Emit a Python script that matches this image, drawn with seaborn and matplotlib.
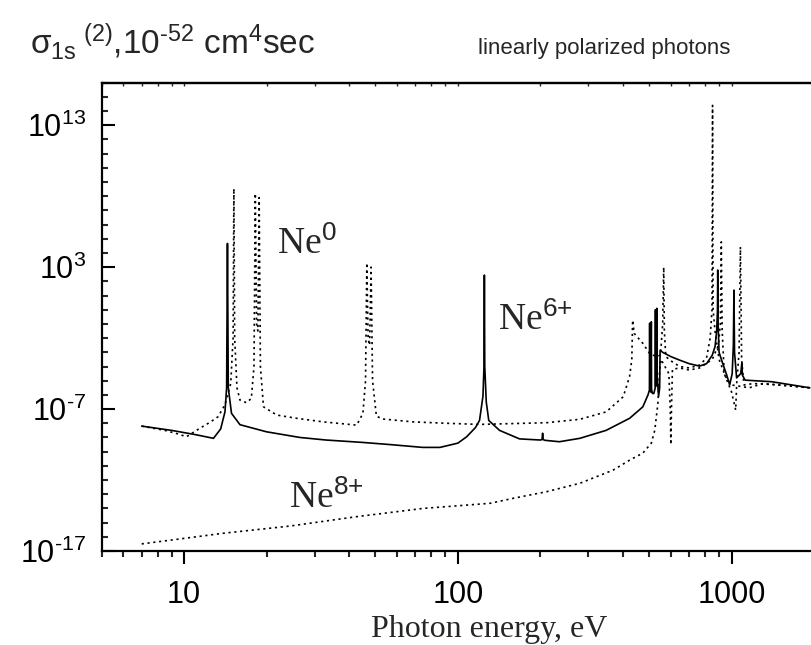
import numpy as np
import pandas as pd
import matplotlib
matplotlib.use("Agg")
import matplotlib.pyplot as plt
import seaborn as sns
from matplotlib import font_manager as fm
from matplotlib.ticker import LogLocator, FixedLocator, FuncFormatter, NullFormatter

# ---------------- data (photon energy in eV, log10 of cross-section) ----------------
ne6_E = [7.0, 9.0, 11.0, 12.8, 13.6, 14.1, 14.3, 14.4, 14.5, 14.9, 16.0, 20.0, 26.5, 33.0,
         45.0, 56.5, 74.5, 86.0, 100.0, 107.7, 116.0, 120.0, 123.5, 124.6, 125.0, 125.4,
         127.0, 129.7, 142.0, 168.0, 200.0, 203.0, 204.0, 205.0, 208.0, 235.0, 279.0,
         348.0, 424.0, 474.0, 495.0, 501.0, 502.0, 503.0, 507.0, 509.0, 510.0, 514.0,
         520.0, 526.0, 527.0, 528.0, 531.0, 533.0, 534.0, 536.0, 541.0, 546.0, 548.0,
         560.0, 600.0, 646.0, 700.0, 764.0, 810.0, 850.0, 870.0, 882.0, 888.0, 890.0,
         893.0, 900.0, 927.0, 960.0, 984.0, 1005.0, 1015.0, 1020.0, 1025.0, 1043.0,
         1080.0, 1090.0, 1095.0, 1120.0, 1400.0, 1930.0]
ne6_logS = [-8.2, -8.5, -8.8, -9.06, -8.4, -7.2, -5.5, 4.67, -5.5, -7.3, -8.1, -8.6, -9.0, -9.18,
            -9.35, -9.5, -9.7, -9.7, -9.4, -8.95, -8.3, -7.8, -6.1, -4.0, 2.44, -4.0,
            -6.5, -7.8, -8.5, -9.1, -9.18, -9.15, -8.7, -9.15, -9.2, -9.3, -9.06,
            -8.5, -7.65, -6.84, -6.0, -5.66, -0.95, -5.7, -5.8, -0.85, -5.6, -5.9,
            -5.9, -5.5, 0.0, -5.4, -5.3, 0.1, -4.5, -5.0, -6.1, -5.5, -2.85,
            -3.0, -3.3, -3.55, -3.8, -3.97, -3.8, -3.2, -2.6, -1.5, 0.0, 2.8,
            -1.0, -3.0, -3.76, -4.6, -5.3, -4.5, -2.5, 1.38, -3.0, -4.8,
            -4.5, -3.76, -4.6, -4.96, -5.07, -5.5]

ne0_E = [7.0, 8.5, 9.5, 10.2, 11.4, 12.5, 13.3, 14.1, 14.8, 15.1, 15.2, 15.3, 15.6, 16.0,
         16.9, 17.6, 18.0, 18.2, 18.4, 18.6, 18.8, 19.0, 19.5, 21.8, 25.8, 32.2, 42.7, 45.0,
         46.0, 46.5, 47.0, 47.6, 48.2, 48.8, 50.4, 53.2, 68.5, 90.9, 120.0, 211.0, 279.0,
         348.0, 402.0, 424.0, 432.0, 435.0, 441.0, 474.0, 502.0, 530.0, 550.0, 560.0,
         565.0, 568.0, 575.0, 600.0, 646.0, 700.0, 764.0, 810.0, 835.0, 848.0, 852.0,
         856.0, 870.0, 900.0, 950.0, 1000.0, 1160.0, 1300.0, 1930.0]
ne0_logS = [-8.2, -8.5, -8.75, -8.95, -8.36, -7.9, -7.54, -6.7, -5.2, -2.0, 8.54, -2.0, -5.5, -6.37,
            -6.55, -6.25, -4.0, 8.2, -1.0, -1.5, 7.9, -4.0, -6.84, -7.42, -7.65, -7.9, -8.13, -7.3,
            -5.0, 3.3, -2.0, -2.5, 3.0, -5.0, -7.5, -7.7, -7.9, -8.0, -8.08, -7.96, -7.72,
            -7.2, -6.13, -4.7, -3.5, -0.73, -1.67, -2.37, -3.08, -3.3, -3.2, -1.0,
            3.0, -1.5, -3.3, -3.6, -4.0, -4.1, -3.9, -3.4, -2.0, 0.0, 14.4,
            0.0, -1.5, -3.5, -4.7, -5.3, -5.5, -5.2, -5.5]

ne8_E = [7.0, 13.9, 24.4, 42.7, 74.6, 131.0, 159.0, 211.0, 279.0, 369.0, 424.0, 474.0, 509.0,
         524.0, 538.0, 546.0, 552.0, 590.0, 597.0, 600.0, 603.0, 608.0, 646.0, 700.0, 764.0,
         850.0, 895.0, 910.0, 917.0, 924.0, 940.0, 1000.0, 1035.0, 1045.0, 1065.0, 1077.0,
         1088.0, 1110.0, 1200.0, 1500.0, 1930.0]
ne8_logS = [-16.5, -15.75, -15.24, -14.58, -14.0, -13.64, -13.29, -12.82, -12.23, -11.3, -10.6, -10.1, -9.4,
            -8.5, -6.6, -4.25, -3.5, -4.5, -7.0, -9.5, -7.0, -4.2, -4.1, -4.25, -4.1,
            -3.5, -2.5, -1.0, 4.78, -1.5, -4.5, -5.8, -7.07, -5.0, -3.0, 4.43,
            -3.5, -5.3, -5.2, -5.3, -5.5]

ion_names = ["Ne0", "Ne6+", "Ne8+"]
y_tick_exponents = [-17, -7, 3, 13]
x_tick_values = [10, 100, 1000]
x_tick_labels = ["10", "100", "1000"]

# ---------------- fonts ----------------
sns.set_style("ticks")
names = {f.name for f in fm.fontManager.ttflist}
SANS_N = "Liberation Sans Narrow" if "Liberation Sans Narrow" in names else "Liberation Sans"
SERIF = "Liberation Serif"
plt.rcParams["font.family"] = [SANS_N, "DejaVu Sans"]
plt.rcParams["mathtext.fontset"] = "custom"
plt.rcParams["mathtext.rm"] = SANS_N
plt.rcParams["mathtext.it"] = SANS_N + ":italic"

frames = []
for name, E, L in [("Ne0", ne0_E, ne0_logS), ("Ne6+", ne6_E, ne6_logS), ("Ne8+", ne8_E, ne8_logS)]:
    frames.append(pd.DataFrame({"E": E, "sigma": 10.0 ** np.array(L), "ion": name}))
df = pd.concat(frames, ignore_index=True)

W, H = 811, 645
fig = plt.figure(figsize=(W / 100, H / 100), dpi=100)
x0, x1, y0, y1 = 101.7, 814.0, 82.7, 551.0
ax = fig.add_axes([x0 / W, 1 - y1 / H, (x1 - x0) / W, (y1 - y0) / H])
ax.set_xscale("log")
ax.set_yscale("log")

sns.lineplot(data=df, x="E", y="sigma", hue="ion", style="ion",
             palette={n: "black" for n in ion_names},
             dashes={"Ne0": (1.3, 2.2), "Ne6+": "", "Ne8+": (1.3, 2.2)},
             estimator=None, sort=False, legend=False, ax=ax, linewidth=1.2)

ax.set_xlim(5, 2000)
ax.set_ylim(1e-17, 1e16)
ax.set_xlabel("")
ax.set_ylabel("")


def ylab(v, p):
    e = int(round(np.log10(v)))
    if e < 0:
        return r"$\mathregular{10^{\text{-}%d}}$" % (-e)
    return r"$\mathregular{10^{%d}}$" % e


ax.yaxis.set_major_locator(FixedLocator([10.0 ** e for e in y_tick_exponents]))
ax.yaxis.set_minor_locator(FixedLocator([10.0 ** e for e in range(-17, 17)]))
ax.yaxis.set_major_formatter(FuncFormatter(ylab))
ax.yaxis.set_minor_formatter(NullFormatter())
ax.xaxis.set_major_locator(FixedLocator(x_tick_values))
ax.xaxis.set_minor_locator(LogLocator(base=10, subs=np.arange(2, 10), numticks=30))
ax.xaxis.set_major_formatter(FuncFormatter(
    lambda v, p: x_tick_labels[x_tick_values.index(int(round(v)))] if int(round(v)) in x_tick_values else ""))
ax.xaxis.set_minor_formatter(NullFormatter())

ax.tick_params(axis="y", which="major", direction="in", length=9, width=1.5, labelsize=22, pad=11, colors="black")
ax.tick_params(axis="y", which="minor", direction="in", length=4, width=1.5)
ax.tick_params(axis="x", which="major", direction="out", length=9, width=1.5, labelsize=22, pad=12, colors="black")
ax.tick_params(axis="x", which="minor", direction="out", length=4, width=1.5)
for s in ax.spines.values():
    s.set_linewidth(1.6)
    s.set_color("black")

top = ax.secondary_xaxis("top")
top.xaxis.set_major_locator(FixedLocator(x_tick_values))
top.xaxis.set_minor_locator(LogLocator(base=10, subs=np.arange(2, 10), numticks=30))
top.tick_params(which="both", direction="in", length=2, width=1, labeltop=False)
top.spines["top"].set_linewidth(1.6)

# ---------------- texts ----------------
fig.text(30 / W, 1 - 54 / H,
         r"$\mathregular{\sigma_{1s}{}^{\ (2)}{,}10^{\text{-}52}\ cm^{4}sec}$",
         fontsize=24, family=[SANS_N, "DejaVu Sans"], ha="left", va="baseline")
fig.text(478 / W, 1 - 54 / H, "linearly polarized photons", fontsize=16,
         family=[SANS_N, "DejaVu Sans"], ha="left", va="baseline")
fig.text(489 / W, 1 - 637 / H, "Photon energy, eV", fontsize=23, family=SERIF,
         ha="center", va="baseline")


def label(xp, yp, base, sup):
    fig.text(xp / W, 1 - yp / H, r"$\mathregular{%s^{\text{%s}}}$" % (base, sup), fontsize=27,
             family=SERIF, ha="left", va="baseline")


label(277, 254, "Ne", "0")
label(498, 330, "Ne", "6+")
label(289, 508, "Ne", "8+")

fig.savefig("out.png", dpi=100)
